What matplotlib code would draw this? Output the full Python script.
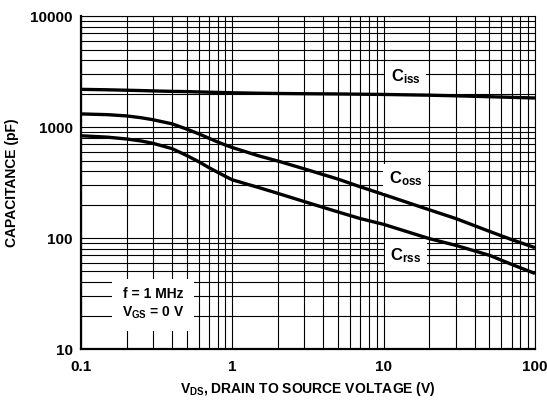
import matplotlib
matplotlib.use("Agg")
import matplotlib.pyplot as plt
from matplotlib.ticker import LogLocator, NullFormatter, FixedLocator

plt.rcParams['font.family'] = ['Liberation Sans', 'DejaVu Sans']
plt.rcParams['font.weight'] = 'bold'
plt.rcParams['axes.labelweight'] = 'bold'
plt.rcParams['mathtext.fontset'] = 'custom'
plt.rcParams['mathtext.rm'] = 'Liberation Sans:bold'
plt.rcParams['mathtext.it'] = 'Liberation Sans:bold'
plt.rcParams['mathtext.bf'] = 'Liberation Sans:bold'

# capacitance vs drain-source voltage (pF)
vds = [0.1, 0.15, 0.2, 0.25, 0.3, 0.4, 0.5, 0.6, 0.7, 0.8, 0.9, 1,
       1.5, 2, 3, 5, 7, 10, 20, 30, 50, 70, 100]
ciss = [2190, 2170, 2150, 2135, 2120, 2100, 2090, 2075, 2065, 2055, 2048, 2040,
        2020, 2010, 2000, 1990, 1980, 1970, 1940, 1915, 1880, 1855, 1830]
coss = [1315, 1295, 1262, 1215, 1165, 1070, 960, 870, 795, 735, 690, 655,
        550, 495, 420, 340, 290, 247, 180, 150, 115, 97, 82]
crss = [836, 812, 782, 750, 714, 640, 555, 488, 432, 392, 360, 335,
        285, 253, 213, 172, 150, 133, 99, 86, 70, 58, 48]

x_ticks = [0.1, 1, 10, 100]
x_tick_labels = ["0.1", "1", "10", "100"]
y_ticks = [10, 100, 1000, 10000]
y_tick_labels = ["10", "100", "1000", "10000"]

fig = plt.figure(figsize=(5.47, 4.04), dpi=100)
ax = fig.add_axes([0.148, 0.136, 0.830, 0.824])

ax.set_xscale("log")
ax.set_yscale("log")
ax.set_xlim(0.1, 100)
ax.set_ylim(10, 10000)

for c in [ciss, coss, crss]:
    ax.plot(vds, c, color="black", lw=2.4, solid_capstyle="butt",
            solid_joinstyle="round", zorder=3)

ax.xaxis.set_major_locator(FixedLocator(x_ticks))
ax.yaxis.set_major_locator(FixedLocator(y_ticks))
ax.set_xticklabels(x_tick_labels)
ax.set_yticklabels(y_tick_labels)
ax.xaxis.set_minor_locator(LogLocator(base=10, subs=range(2, 10), numticks=20))
ax.yaxis.set_minor_locator(LogLocator(base=10, subs=range(2, 10), numticks=20))
ax.xaxis.set_minor_formatter(NullFormatter())
ax.yaxis.set_minor_formatter(NullFormatter())
ax.tick_params(which="both", length=0, labelsize=11, pad=6)
ax.tick_params(axis="x", pad=8)

ax.grid(True, which="both", color="black", lw=0.8, zorder=1)
ax.set_axisbelow(True)

for side in ["top", "right"]:
    ax.spines[side].set_linewidth(0.8)
for side in ["left", "bottom"]:
    ax.spines[side].set_linewidth(1.6)

ax.set_xlabel(r"$V_{DS}$, DRAIN TO SOURCE VOLTAGE (V)", fontsize=10, labelpad=4)
ax.set_ylabel("CAPACITANCE (pF)", fontsize=10, labelpad=8)

box = dict(facecolor="white", edgecolor="none", pad=4)
ax.text(14, 2850, r"$C_{iss}$", fontsize=12, ha="center", va="center", bbox=box, zorder=4)
ax.text(14, 344, r"$C_{oss}$", fontsize=12, ha="center", va="center", bbox=box, zorder=4)
ax.text(14, 69, r"$C_{rss}$", fontsize=12, ha="center", va="center", bbox=box, zorder=4)

ax.text(0.3, 25.5, "f = 1 MHz\n" + r"$V_{GS}$ = 0 V", fontsize=10, ha="center", va="center",
        linespacing=1.3, bbox=dict(facecolor="white", edgecolor="none", pad=7), zorder=4)

fig.savefig("out.png", dpi=100)
